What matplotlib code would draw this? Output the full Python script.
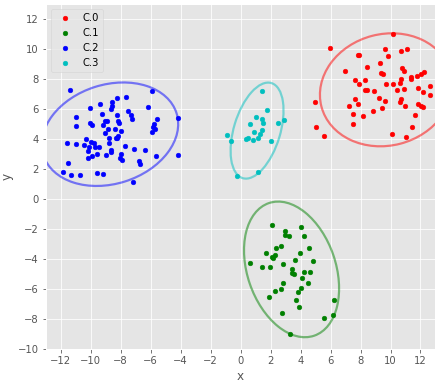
import matplotlib
matplotlib.use("Agg")
import matplotlib.pyplot as plt
from matplotlib.patches import Ellipse

plt.style.use("ggplot")

labels = ["C.0", "C.1", "C.2", "C.3"]
colors = ["r", "g", "b", "c"]

c0_x = [10.18, 5.98, 7.8, 7.88, 9.64, 10.71, 11.11, 9.84, 9.29, 8.44, 6.98, 10.78, 10.91, 9.36, 9.47,
        11.36, 11.36, 11.76, 12.04, 12.24, 7.64, 8.29, 10.71, 7.87, 9.69, 10.18, 10.62, 11.82, 12.62,
        12.18, 8.33, 8.44, 8.91, 10.44, 10.91, 12.62, 9.24, 7.64, 9.64, 10.62, 10.71, 4.98, 7.8, 11.82,
        7.24, 10.98, 12.04, 12.18, 9.4, 8.84, 8.18, 7.51, 11.64, 7.51, 5.04, 11.44, 5.58, 10.11, 11.04]
c0_y = [11.0, 10.04, 9.6, 9.6, 9.98, 9.84, 10.02, 9.51, 9.04, 8.78, 8.51, 8.69, 8.53, 8.38, 8.29,
        8.09, 8.02, 8.22, 8.33, 8.44, 7.91, 7.91, 7.98, 7.64, 7.64, 7.64, 7.71, 7.38, 7.51,
        7.11, 7.24, 7.24, 7.18, 7.24, 7.31, 6.91, 6.71, 6.64, 6.51, 6.49, 6.64, 6.44, 6.31, 6.31,
        6.18, 6.18, 6.18, 6.11, 6.04, 5.84, 5.51, 5.64, 5.58, 4.98, 4.78, 4.78, 4.18, 4.31, 4.11]

c1_x = [2.11, 4.0, 2.98, 2.98, 3.2, 4.24, 2.71, 2.33, 4.58, 1.71, 3.98, 2.31, 2.11, 2.18, 3.64, 4.84,
        0.64, 2.84, 1.44, 1.98, 3.42, 3.42, 3.56, 4.24, 4.64, 4.11, 2.84, 4.51, 4.04, 2.31, 2.71,
        3.84, 1.91, 3.69, 6.24, 2.78, 3.91, 6.18, 5.58, 3.31]
c1_y = [-1.76, -1.89, -2.13, -2.42, -2.49, -2.49, -3.16, -3.29, -3.29, -3.62, -3.62, -3.76, -3.89,
        -3.96, -4.09, -4.16, -4.29, -4.36, -4.56, -4.56, -4.69, -4.91, -5.02, -4.89, -4.89, -5.29,
        -5.62, -5.62, -5.96, -6.16, -6.02, -6.22, -6.56, -6.76, -6.76, -7.62, -7.22, -7.76, -7.96, -9.02]

c2_x = [-11.36, -5.89, -7.62, -8.22, -8.56, -9.36, -8.56, -8.64, -6.16, -10.02, -7.49, -7.29, -7.22,
        -8.22, -9.22, -10.96, -4.16, -5.56, -9.02, -8.89, -8.16, -8.09, -10.02, -9.89, -10.96, -9.16,
        -5.76, -5.82, -5.89, -5.73, -7.96, -8.82, -8.36, -9.02, -8.8, -8.22, -8.16, -8.29, -11.56,
        -10.96, -10.29, -10.0, -9.76, -8.76, -10.42, -10.09, -9.73, -9.42, -7.69, -7.09, -6.36,
        -10.16, -8.67, -8.67, -7.96, -9.6, -8.96, -9.89, -10.16, -8.02, -7.89, -5.62, -4.16, -6.76,
        -6.69, -11.49, -11.82, -11.29, -10.69, -9.56, -9.16, -7.16]
c2_y = [7.24, 7.18, 6.78, 6.71, 6.44, 6.31, 6.18, 5.98, 6.11, 6.04, 5.84, 5.58, 5.31,
        5.58, 5.64, 5.44, 5.38, 5.31, 5.18, 5.18, 5.18, 5.04, 5.04, 4.91, 4.84, 4.91,
        4.98, 4.78, 4.47, 4.64, 4.51, 4.64, 4.64, 4.38, 4.09, 4.04, 4.18, 4.04, 3.71,
        3.64, 3.98, 3.78, 3.71, 3.71, 3.58, 3.44, 3.44, 3.44, 3.51, 3.31, 3.24,
        3.2, 3.24, 3.11, 3.0, 2.98, 2.91, 2.84, 2.71, 2.71, 2.58, 2.84, 2.91, 2.51,
        2.31, 2.38, 1.78, 1.58, 1.58, 1.71, 1.64, 1.11]

c3_x = [1.44, 1.78, 1.04, 1.44, 1.51, 0.64, 2.51, 2.91, -0.89, -0.62, 0.91, 1.44, 1.31, 1.18, 0.38,
        0.51, 0.84, 2.04, 1.18, -0.22]
c3_y = [7.18, 5.91, 5.44, 5.31, 5.04, 4.98, 5.04, 5.24, 4.24, 3.84, 4.44, 4.58, 4.31, 4.04, 3.98,
        4.04, 3.91, 3.84, 1.78, 1.51]

# ellipse parameters: center x, center y, width, height, angle
ell_cx = [9.71, 3.4, -8.71, 1.1]
ell_cy = [7.27, -4.7, 4.31, 4.55]
ell_w = [8.92, 9.34, 9.31, 6.62]
ell_h = [7.43, 5.89, 6.61, 3.1]
ell_ang = [14.5, 108.9, 17.5, 73.2]

xs = [c0_x, c1_x, c2_x, c3_x]
ys = [c0_y, c1_y, c2_y, c3_y]

fig = plt.figure(figsize=(439 / 72, 383 / 72), dpi=72)
ax = fig.add_axes([0.104, 0.089, 0.888, 0.901])

for i in range(4):
    ax.scatter(xs[i], ys[i], c=colors[i], s=22, label=labels[i], zorder=3)
    e = Ellipse((ell_cx[i], ell_cy[i]), ell_w[i], ell_h[i], angle=ell_ang[i],
                fill=False, edgecolor=colors[i], lw=2.2, alpha=0.5, zorder=2)
    ax.add_patch(e)

ax.set_xlim(-13, 13)
ax.set_ylim(-10, 13)
ax.set_xticks(range(-12, 13, 2))
ax.set_yticks(range(-10, 13, 2))
ax.set_xlabel("x")
ax.set_ylabel("y")
ax.legend(loc="upper left", fontsize=10)

fig.savefig("out.png", dpi=72)
